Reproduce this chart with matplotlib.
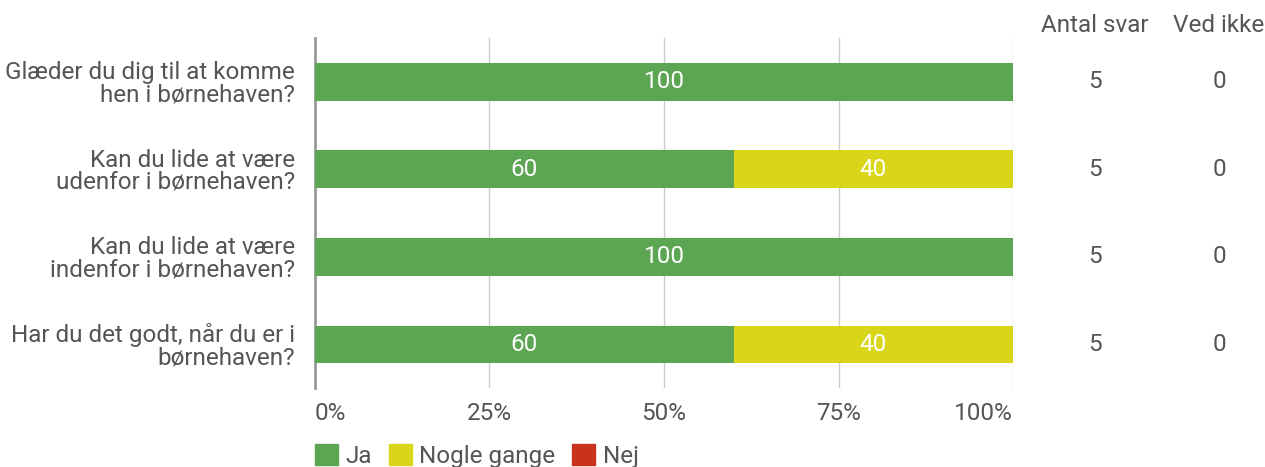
import matplotlib.pyplot as plt
import numpy as np
from matplotlib.patches import Patch

plt.rcParams["font.family"] = ["Roboto", "DejaVu Sans"]

QUESTIONS = [
    "Glæder du dig til at komme\nhen i børnehaven?",
    "Kan du lide at være\nudenfor i børnehaven?",
    "Kan du lide at være\nindenfor i børnehaven?",
    "Har du det godt, når du er i\nbørnehaven?",
]
SERIES = ["Ja", "Nogle gange", "Nej"]
JA = [100, 60, 100, 60]
NOGLE = [0, 40, 0, 40]
NEJ = [0, 0, 0, 0]
ANTAL_SVAR = [5, 5, 5, 5]
VED_IKKE = [0, 0, 0, 0]
XTICKS = [0, 25, 50, 75, 100]

COLORS = ["#5BA553", "#D9D619", "#C8331A"]
TEXT = "#555555"
FS = 17.5

fig = plt.figure(figsize=(12.65, 4.67), dpi=100)
ax = fig.add_axes([0.249, 0.169, 0.5518, 0.7496])

y = np.arange(len(QUESTIONS))
left = np.zeros(len(QUESTIONS))
for name, vals, col in zip(SERIES, [JA, NOGLE, NEJ], COLORS):
    vals = np.array(vals, dtype=float)
    ax.barh(y, vals, left=left, height=0.43, color=col, zorder=3)
    for yi, (l, v) in enumerate(zip(left, vals)):
        if v > 0:
            ax.text(l + v / 2, yi, f"{v:g}", ha="center", va="center",
                    color="white", fontsize=FS, zorder=4)
    left += vals

ax.set_xlim(0, 100)
ax.set_ylim(3.5, -0.5)
ax.set_xticks(XTICKS)
ax.set_xticklabels([f"{t}%" for t in XTICKS])
ax.set_yticks(y)
ax.set_yticklabels(QUESTIONS, ha="right", linespacing=0.95)
ax.tick_params(axis="both", length=0, labelsize=FS, labelcolor=TEXT)
ax.tick_params(axis="x", pad=10)
ax.tick_params(axis="y", pad=14.5)
# end labels kept inside the plot width
xlabels = ax.get_xticklabels()
xlabels[0].set_horizontalalignment("left")
xlabels[-1].set_horizontalalignment("right")
ax.grid(axis="x", color="#cccccc", linewidth=1, zorder=0)
for side in ["top", "right", "bottom"]:
    ax.spines[side].set_visible(False)
ax.spines["left"].set_color("#999999")
ax.spines["left"].set_linewidth(2)

# side columns
col_x = [1095 / 1265, 1219 / 1265]
fig.text(col_x[0], 1 - 26 / 467, "Antal svar", ha="center", va="center",
         fontsize=FS, color=TEXT)
fig.text(col_x[1], 1 - 26 / 467, "Ved ikke", ha="center", va="center",
         fontsize=FS, color=TEXT)
for yi in range(len(QUESTIONS)):
    yd = ax.transData.transform((0, yi))[1]
    yf = fig.transFigure.inverted().transform((0, yd))[1]
    fig.text(col_x[0], yf, str(ANTAL_SVAR[yi]), ha="center", va="center",
             fontsize=FS, color=TEXT)
    fig.text(col_x[1], yf, str(VED_IKKE[yi]), ha="center", va="center",
             fontsize=FS, color=TEXT)

handles = [Patch(facecolor=c, edgecolor=c, label=s) for s, c in zip(SERIES, COLORS)]
fig.legend(handles=handles, loc="center left", bbox_to_anchor=(0.249, 1 - 456 / 467),
           ncol=3, frameon=False, fontsize=FS, labelcolor=TEXT,
           handlelength=0.95, handleheight=0.95, handletextpad=0.3,
           columnspacing=0.7, borderpad=0, borderaxespad=0)

fig.savefig("out.png", dpi=100)
